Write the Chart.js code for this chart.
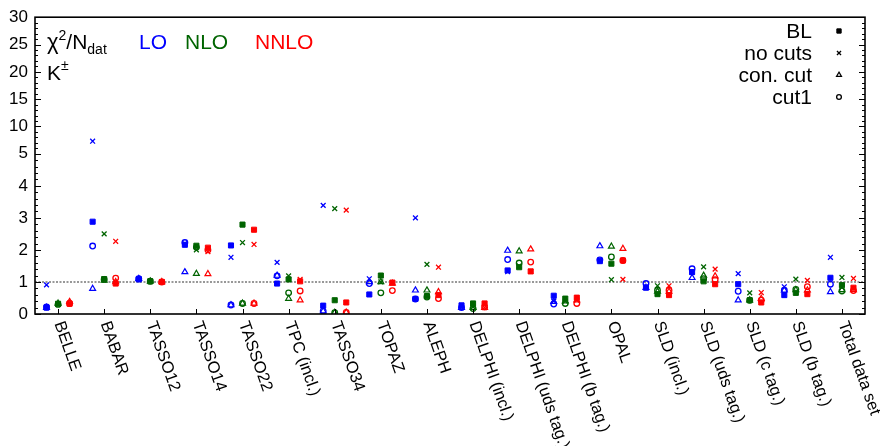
<!DOCTYPE html>
<html><head><meta charset="utf-8">
<script src="https://cdn.jsdelivr.net/npm/chart.js@4/dist/chart.umd.min.js"></script>
<style>html,body{margin:0;padding:0;background:#fff}#wrap{width:880px;height:446px;position:relative}</style>
</head><body><div id="wrap"><canvas id="c"></canvas></div>
<script>
const categories = ['BELLE','BABAR','TASSO12','TASSO14','TASSO22','TPC (incl.)','TASSO34','TOPAZ','ALEPH','DELPHI (incl.)','DELPHI (uds tag.)','DELPHI (b tag.)','OPAL','SLD (incl.)','SLD (uds tag.)','SLD (c tag.)','SLD (b tag.)','Total data set'];

// LO
const LO_BL      = [0.20,2.88,1.08,2.16,2.14,0.95,0.26,0.61,0.47,0.27,1.36,0.57,1.65,0.82,1.31,0.93,0.59,1.13];
const LO_noCuts  = [0.91,7.30,1.10,2.20,1.77,1.61,3.39,1.10,3.00,0.20,1.32,0.40,1.68,0.85,1.30,1.26,0.85,1.77];
const LO_conCut  = [0.20,0.79,1.10,1.31,0.28,1.20,0.09,1.00,0.74,0.20,1.98,0.38,2.12,0.82,1.13,0.43,0.74,0.69];
const LO_cut1    = [0.22,2.12,1.10,2.23,0.28,1.19,0.09,0.95,0.47,0.20,1.70,0.31,1.69,0.95,1.41,0.71,0.74,0.93];
// NLO
const NLO_BL     = [0.32,1.09,1.02,2.13,2.79,1.08,0.43,1.20,0.56,0.33,1.46,0.48,1.57,0.62,1.02,0.43,0.66,0.90];
const NLO_noCuts = [0.30,2.50,1.02,2.00,2.23,1.19,3.29,1.00,1.55,0.22,1.50,0.40,1.07,0.88,1.47,0.66,1.09,1.14];
const NLO_conCut = [0.33,1.05,1.02,1.26,0.33,0.48,0.04,1.00,0.74,0.20,1.96,0.40,2.11,0.70,1.20,0.43,0.75,0.75];
const NLO_cut1   = [0.30,1.08,1.02,2.08,0.33,0.66,0.04,0.66,0.53,0.17,1.59,0.33,1.78,0.74,1.10,0.43,0.77,0.72];
// NNLO
const NNLO_BL     = [0.32,0.95,1.00,2.07,2.63,1.02,0.36,0.98,0.59,0.33,1.33,0.51,1.67,0.59,0.93,0.36,0.62,0.82];
const NNLO_noCuts = [0.33,2.27,1.00,1.95,2.17,1.08,3.24,0.98,1.46,0.20,1.33,0.43,1.08,0.88,1.40,0.67,1.05,1.11];
const NNLO_conCut = [0.38,1.00,1.00,1.25,0.33,0.43,0.05,0.95,0.69,0.20,2.02,0.43,2.04,0.70,1.18,0.48,0.74,0.75];
const NNLO_cut1   = [0.33,1.12,1.00,2.00,0.33,0.72,0.05,0.73,0.48,0.22,1.62,0.33,1.67,0.74,1.07,0.43,0.85,0.73];

const yTickValues = [0,1,2,3,4,5,10,15,20,25,30];
const refLine = 1;
const legendLabels = ['BL','no cuts','con. cut','cut1'];
const orderLabels = ['LO','NLO','NNLO'];

// ---- styling / layout ----
const COLORS = {LO:'#0000ff', NLO:'#006400', NNLO:'#ff0000'};
const OFFSETS = {LO:-0.25, NLO:0, NNLO:0.25};
const FONT = "'Liberation Sans', Arial, sans-serif";
const BREAK = 5, UPPER = 0.1705;
const fwd = v => v <= BREAK ? v : BREAK + (v - BREAK) * UPPER;
const inv = t => t <= BREAK ? t : BREAK + (t - BREAK) / UPPER;

class BrokenScale extends Chart.LinearScale {
  buildTicks() { return yTickValues.map(v => ({value: v})); }
  getPixelForValue(value) {
    const lo = fwd(this.min), hi = fwd(this.max);
    return this.getPixelForDecimal((fwd(value) - lo) / (hi - lo));
  }
  getValueForPixel(pixel) {
    const lo = fwd(this.min), hi = fwd(this.max);
    return inv(lo + this.getDecimalForPixel(pixel) * (hi - lo));
  }
}
BrokenScale.id = 'broken';
BrokenScale.defaults = Chart.LinearScale.defaults;
Chart.register(BrokenScale);

const cutStyles = [
  {style:'rect', radius:3.6, fill:true, bw:1},
  {style:'crossRot', radius:3.4, fill:false, bw:1.3},
  {style:'triangle', radius:3.4, fill:false, bw:1.2},
  {style:'circle', radius:2.8, fill:false, bw:1.3}
];
const seriesByOrder = {
  LO: [LO_BL, LO_noCuts, LO_conCut, LO_cut1],
  NLO: [NLO_BL, NLO_noCuts, NLO_conCut, NLO_cut1],
  NNLO: [NNLO_BL, NNLO_noCuts, NNLO_conCut, NNLO_cut1]
};
const datasets = [];
orderLabels.forEach(ord => {
  seriesByOrder[ord].forEach((arr, k) => {
    const st = cutStyles[k];
    datasets.push({
      type:'scatter',
      label: ord + ' ' + legendLabels[k],
      data: arr.map((v, i) => ({x: i + OFFSETS[ord], y: v})),
      pointStyle: st.style, pointRadius: st.radius, pointBorderWidth: st.bw,
      borderColor: COLORS[ord], backgroundColor: st.fill ? COLORS[ord] : 'rgba(0,0,0,0)',
      showLine:false
    });
  });
});
datasets.push({
  type:'line', label:'ref',
  data:[{x:-0.5, y:refLine},{x:categories.length-0.5, y:refLine}],
  borderColor:'#777', borderWidth:1.6, borderDash:[2,1.5], pointRadius:0, fill:false
});

const deco = {
  id:'deco',
  afterDraw(chart) {
    const {ctx, chartArea:a, scales:{x, y}} = chart;
    ctx.save();
    // frame
    ctx.strokeStyle = '#000'; ctx.lineWidth = 1.6;
    ctx.strokeRect(a.left, a.top, a.right - a.left, a.bottom - a.top);
    // y ticks (major + minor), inward both sides
    ctx.lineWidth = 1;
    const tick = (v, len) => {
      const py = Math.round(y.getPixelForValue(v)) + 0.5;
      ctx.beginPath();
      ctx.moveTo(a.left, py); ctx.lineTo(a.left + len, py);
      ctx.moveTo(a.right, py); ctx.lineTo(a.right - len, py);
      ctx.stroke();
    };
    yTickValues.forEach(v => tick(v, 6));
    for (let v = 0.2; v < BREAK; v += 0.2) if (Math.abs(v - Math.round(v)) > 0.01) tick(v, 3);
    for (let v = BREAK + 1; v < 30; v += 1) if (v % 5) tick(v, 3);
    // x ticks
    categories.forEach((c, i) => {
      const px = Math.round(x.getPixelForValue(i)) + 0.5;
      ctx.beginPath(); ctx.moveTo(px, a.bottom); ctx.lineTo(px, a.bottom - 5); ctx.stroke();
    });
    // x labels, rotated
    ctx.fillStyle = '#000';
    ctx.font = '16.5px ' + FONT;
    ctx.textAlign = 'left'; ctx.textBaseline = 'middle';
    const ang = 70.5 * Math.PI / 180;
    categories.forEach((c, i) => {
      const px = x.getPixelForValue(i);
      ctx.save();
      ctx.translate(px + 0.5, a.bottom + 8);
      ctx.rotate(ang);
      ctx.fillText(c, 0, 0);
      ctx.restore();
    });
    // title
    ctx.textBaseline = 'alphabetic';
    let tx = 47;
    const put = (t, size, dy, color) => {
      ctx.font = size + 'px ' + FONT; ctx.fillStyle = color || '#000';
      ctx.fillText(t, tx, 49 + dy); tx += ctx.measureText(t).width;
    };
    put('\u03c7', 22, 0); put('2', 14, -9); put('/N', 21, 0); put('dat', 14, 5);
    ctx.font = '21px ' + FONT; ctx.fillStyle = '#000';
    ctx.fillText('K', 47, 80);
    const kw = ctx.measureText('K').width;
    ctx.font = '14px ' + FONT; ctx.fillText('\u00b1', 47 + kw, 70);
    ctx.font = '21px ' + FONT;
    const ordX = {LO:139, NLO:185, NNLO:255};
    orderLabels.forEach(o => { ctx.fillStyle = COLORS[o]; ctx.fillText(o, ordX[o], 49); });
    // legend
    ctx.textAlign = 'right'; ctx.fillStyle = '#000';
    legendLabels.forEach((l, k) => {
      const cy = 31 + k * 22;
      ctx.font = '21px ' + FONT; ctx.fillStyle = '#000';
      ctx.fillText(l, 812, cy + 7);
      const st = cutStyles[k];
      ctx.strokeStyle = '#000'; ctx.fillStyle = st.fill ? '#000' : 'rgba(0,0,0,0)';
      ctx.lineWidth = st.bw;
      Chart.helpers.drawPoint(ctx, {pointStyle: st.style, radius: st.radius * 0.85, borderWidth: st.bw}, 839, cy);
    });
    ctx.restore();
  }
};

new Chart(document.getElementById('c'), {
  type:'scatter',
  data:{datasets},
  options:{
    responsive:true, maintainAspectRatio:false, animation:false,
    layout:{padding:{left:0, right:15, top:15, bottom:0}},
    plugins:{legend:{display:false}, tooltip:{enabled:false}},
    events:[],
    scales:{
      x:{type:'linear', min:-0.5, max:categories.length - 0.5,
         grid:{display:false}, border:{display:false}, ticks:{display:false},
         afterFit(s){ s.height = 132; }},
      y:{type:'broken', min:0, max:30,
         grid:{display:false, drawTicks:false}, border:{display:false},
         ticks:{padding:7, color:'#000', font:{family:FONT, size:17}, callback:v => String(v)},
         afterFit(s){ s.width = 35; }}
    }
  },
  plugins:[deco]
});
</script></body></html>
